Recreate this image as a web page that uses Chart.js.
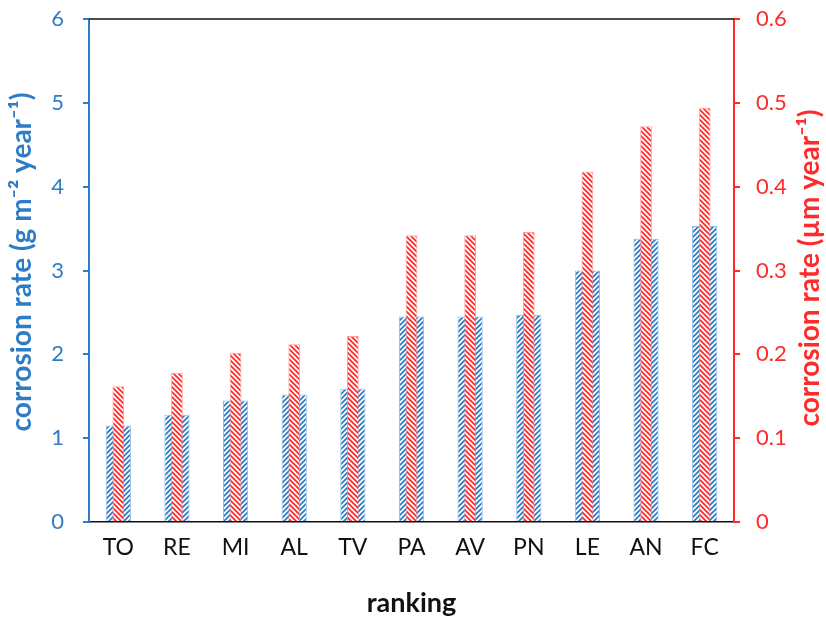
<!DOCTYPE html>
<html>
<head>
<meta charset="utf-8">
<script src="https://cdn.jsdelivr.net/npm/chart.js@4/dist/chart.umd.min.js"></script>
<style>
  html, body { margin: 0; padding: 0; background: #fff; }
  #wrap { width: 826px; height: 625px; position: relative; }
</style>
</head>
<body>
<div id="wrap"><canvas id="c" width="826" height="625"></canvas></div>
<script>
const categories = ['TO', 'RE', 'MI', 'AL', 'TV', 'PA', 'AV', 'PN', 'LE', 'AN', 'FC'];
const massLoss = [1.15, 1.28, 1.45, 1.52, 1.59, 2.45, 2.45, 2.47, 3.00, 3.38, 3.53];
const thicknessLoss = [0.162, 0.178, 0.202, 0.212, 0.222, 0.342, 0.342, 0.346, 0.418, 0.472, 0.494];
const leftTicks = [0, 1, 2, 3, 4, 5, 6];
const rightTicks = [0, 0.1, 0.2, 0.3, 0.4, 0.5, 0.6];
const leftTitle = 'corrosion rate (g m\u207B\u00B2 year\u207B\u00B9)';
const rightTitle = 'corrosion rate (\u00B5m year\u207B\u00B9)';
const xTitle = 'ranking';

const BLUE = '#2E7CC6';
const RED = '#FF2A2A';
const FONT = 'Lato, "Open Sans", sans-serif';

function makePattern(color, forward) {
  const p = 5;
  const cv = document.createElement('canvas');
  cv.width = p; cv.height = p;
  const g = cv.getContext('2d');
  g.fillStyle = '#fff';
  g.fillRect(0, 0, p, p);
  g.strokeStyle = color;
  g.lineWidth = 1.8;
  g.beginPath();
  if (forward) {
    g.moveTo(0, p); g.lineTo(p, 0);
    g.moveTo(-1, 1); g.lineTo(1, -1);
    g.moveTo(p - 1, p + 1); g.lineTo(p + 1, p - 1);
  } else {
    g.moveTo(0, 0); g.lineTo(p, p);
    g.moveTo(-1, p - 1); g.lineTo(1, p + 1);
    g.moveTo(p - 1, -1); g.lineTo(p + 1, 1);
  }
  g.stroke();
  return document.getElementById('c').getContext('2d').createPattern(cv, 'repeat');
}

function drawVTitle(ctx, text, color, x, y) {
  ctx.save();
  ctx.fillStyle = color;
  ctx.font = 'bold 28px ' + FONT;
  ctx.textAlign = 'center';
  ctx.textBaseline = 'middle';
  ctx.translate(x, y);
  ctx.rotate(-Math.PI / 2);
  ctx.fillText(text, 0, 0);
  ctx.restore();
}

const frame = {
  id: 'frame',
  afterDraw(chart) {
    const { ctx, chartArea } = chart;
    ctx.save();
    ctx.strokeStyle = '#111';
    ctx.lineWidth = 1.5;
    ctx.beginPath();
    ctx.moveTo(chartArea.left, chartArea.top);
    ctx.lineTo(chartArea.right, chartArea.top);
    ctx.stroke();
    ctx.restore();
    drawVTitle(ctx, leftTitle, BLUE, 22, 262);
    drawVTitle(ctx, rightTitle, RED, 810, 268);
  }
};

function noPad(s) { s.paddingTop = 0; s.paddingBottom = 0; }

new Chart(document.getElementById('c'), {
  type: 'bar',
  data: {
    labels: categories,
    datasets: [
      {
        label: 'thickness loss',
        data: thicknessLoss,
        yAxisID: 'y1',
        grouped: false,
        order: 0,
        backgroundColor: makePattern(RED, false),
        borderColor: 'rgba(255,120,120,0.7)',
        borderWidth: 1,
        barPercentage: 0.2,
        categoryPercentage: 1
      },
      {
        label: 'mass loss',
        data: massLoss,
        yAxisID: 'y',
        grouped: false,
        order: 1,
        backgroundColor: makePattern(BLUE, true),
        borderColor: 'rgba(120,170,220,0.8)',
        borderWidth: 1,
        barPercentage: 0.43,
        categoryPercentage: 1
      }
    ]
  },
  options: {
    responsive: false,
    animation: false,
    layout: { padding: { top: 19, left: 0, right: 0, bottom: 0 } },
    plugins: { legend: { display: false }, tooltip: { enabled: false } },
    scales: {
      x: {
        grid: { display: true, drawOnChartArea: false, drawTicks: false },
        border: { display: true, color: '#111', width: 1.5 },
        ticks: { color: '#111', font: { family: FONT, size: 23 }, padding: 12, maxRotation: 0 },
        title: { display: true, text: xTitle, color: '#111', font: { family: FONT, size: 27, weight: 'bold' }, padding: { top: 0, bottom: 6 } },
        afterFit(s) { s.height = 103; }
      },
      y: {
        position: 'left',
        min: 0, max: 6,
        afterBuildTicks(s) { s.ticks = leftTicks.map(v => ({ value: v })); },
        grid: { drawOnChartArea: false, drawTicks: true, tickLength: 6, color: BLUE, lineWidth: 2 },
        border: { display: true, color: BLUE, width: 2 },
        ticks: { color: BLUE, font: { family: FONT, size: 22 }, padding: 19 },
        afterFit(s) { s.width = 89; noPad(s); }
      },
      y1: {
        position: 'right',
        min: 0, max: 0.6,
        afterBuildTicks(s) { s.ticks = rightTicks.map(v => ({ value: v })); },
        grid: { drawOnChartArea: false, drawTicks: true, tickLength: 6, color: RED, lineWidth: 2 },
        border: { display: true, color: RED, width: 2 },
        ticks: { color: RED, font: { family: FONT, size: 22 }, padding: 16,
          callback: v => v === 0 ? '0' : v.toFixed(1) },
        afterFit(s) { s.width = 92; noPad(s); }
      }
    }
  },
  plugins: [frame]
});
</script>
</body>
</html>
